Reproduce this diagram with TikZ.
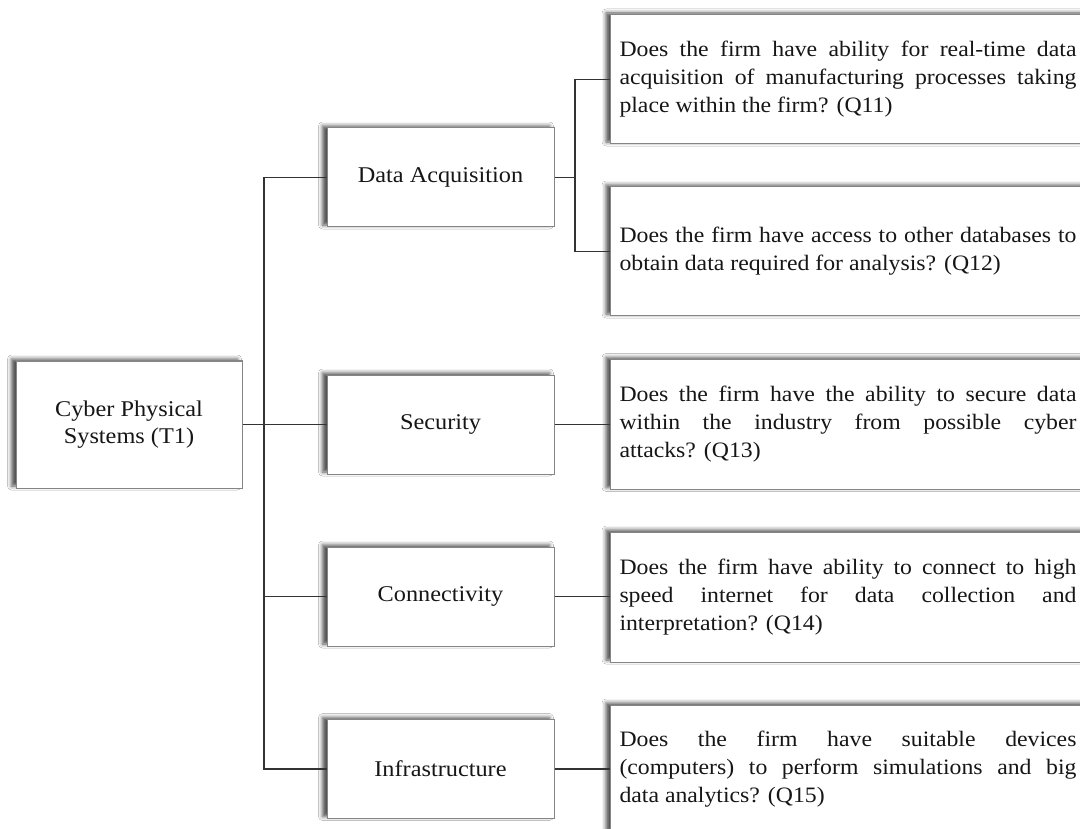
\documentclass[tikz,border=0pt]{standalone}
\usepackage{fontspec}
\setmainfont{Liberation Serif}[FakeStretch=1.08]
\usetikzlibrary{shadows.blur}
\definecolor{boxline}{HTML}{858585}
\definecolor{wire}{HTML}{333333}
\definecolor{ink}{HTML}{161616}
\hyphenpenalty=10000
\exhyphenpenalty=10000
\tolerance=10000
\begin{document}
\begin{tikzpicture}[x=1pt,y=-1pt,
  box/.style={draw=boxline, line width=1pt, fill=white, rectangle, text=ink,
    font=\fontsize{22.5}{27}\selectfont,
    blur shadow={shadow xshift=-4.5pt, shadow yshift=2pt, shadow blur radius=4pt, shadow opacity=70}},
  topic/.style={box, minimum width=226pt, minimum height=127pt, align=center, inner sep=0pt},
  aspect/.style={box, minimum width=227pt, minimum height=99pt, align=center, inner sep=0pt},
  question/.style={box, anchor=west, text width=457pt, inner xsep=9pt, inner ysep=0pt,
    minimum height=129pt, align=justify, font=\fontsize{22}{28}\selectfont},
  link/.style={draw=wire, line width=1.6pt}]
\useasboundingbox (0,0) rectangle (1080,829);
\clip (0,0) rectangle (1080,829);
\fill[white] (0,0) rectangle (1080,829);

% topic and its aspects
\node[topic] (root) at (129,424.5) {Cyber Physical\\Systems (T1)};
\node[aspect] (da)  at (440.5,177.5) {Data Acquisition};
\node[aspect] (sec) at (440.5,424.5) {Security};
\node[aspect] (con) at (440.5,596.5) {Connectivity};
\node[aspect] (inf) at (440.5,769) {Infrastructure};

% survey questions
\node[question] (q11) at (610,79.5) {Does the firm have ability for real-time data\linebreak acquisition of manufacturing processes taking\linebreak place within the firm? (Q11)};
\node[question] (q12) at (610,251.5) {Does the firm have access to other databases to\linebreak obtain data required for analysis? (Q12)};
\node[question, minimum height=130pt] (q13) at (610,424.5) {Does the firm have the ability to secure data\linebreak within the industry from possible cyber\linebreak attacks? (Q13)};
\node[question, minimum height=130pt] (q14) at (610,597) {Does the firm have ability to connect to high\linebreak speed internet for data collection and\linebreak interpretation? (Q14)};
\node[question, minimum height=128pt] (q15) at (610,769) {Does the firm have suitable devices\linebreak (computers) to perform simulations and big\linebreak data analytics? (Q15)};

% connectors
\coordinate (trunk) at (264,0);
\coordinate (fork) at (575,0);
\draw[link] (root.east) -- (sec.west);
\draw[link] (da.west) -- (da.west -| trunk) -- (inf.west -| trunk) -- (inf.west);
\draw[link] (con.west) -- (con.west -| trunk);
\draw[link] (da.east) -- (da.east -| fork);
\draw[link] (q11.west) -- (q11.west -| fork) -- (q12.west -| fork) -- (q12.west);
\draw[link] (sec.east) -- (sec.east -| q13.west);
\draw[link] (con.east) -- (con.east -| q14.west);
\draw[link] (inf.east) -- (inf.east -| q15.west);
\end{tikzpicture}
\end{document}
